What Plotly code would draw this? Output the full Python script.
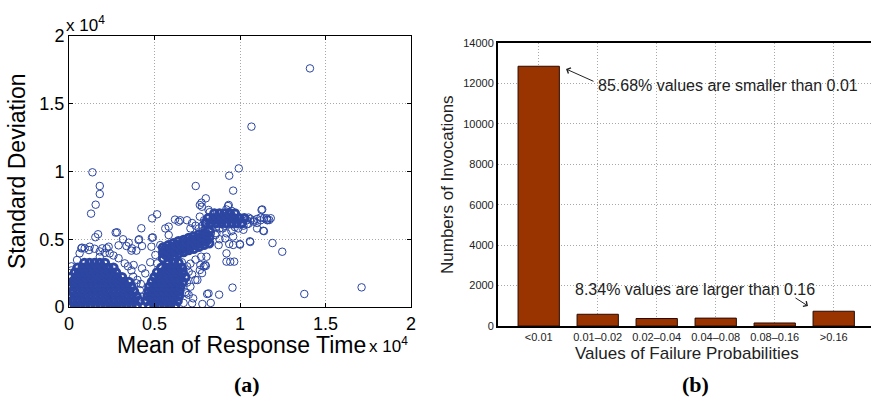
import plotly.graph_objects as go

W, H = 871, 398

# ---------------- Panel (a): scatter data (units of 1e4) ----------------
cluster_a = [
    (0.005,0.01),(0.035,0.01),(0.065,0.01),(0.095,0.01),(0.125,0.01),(0.155,0.01),(0.185,0.01),
    (0.215,0.01),(0.245,0.01),(0.275,0.01),(0.305,0.01),(0.335,0.01),(0.365,0.01),(0.395,0.01),
    (0.02,0.045),(0.05,0.045),(0.08,0.045),(0.11,0.045),(0.14,0.045),(0.17,0.045),(0.20,0.045),
    (0.23,0.045),(0.26,0.045),(0.29,0.045),(0.32,0.045),(0.35,0.045),(0.38,0.045),(0.41,0.045),
    (0.005,0.08),(0.035,0.08),(0.065,0.08),(0.095,0.08),(0.125,0.08),(0.155,0.08),(0.185,0.08),
    (0.215,0.08),(0.245,0.08),(0.275,0.08),(0.305,0.08),(0.335,0.08),(0.365,0.08),(0.395,0.08),
    (0.02,0.115),(0.05,0.115),(0.08,0.115),(0.11,0.115),(0.14,0.115),(0.17,0.115),(0.20,0.115),
    (0.23,0.115),(0.26,0.115),(0.29,0.115),(0.32,0.115),(0.35,0.115),(0.38,0.115),
    (0.005,0.15),(0.035,0.15),(0.065,0.15),(0.095,0.15),(0.125,0.15),(0.155,0.15),(0.185,0.15),
    (0.215,0.15),(0.245,0.15),(0.275,0.15),(0.305,0.15),(0.335,0.15),(0.365,0.15),
    (0.02,0.185),(0.05,0.185),(0.08,0.185),(0.11,0.185),(0.14,0.185),(0.17,0.185),(0.20,0.185),
    (0.23,0.185),(0.26,0.185),(0.29,0.185),(0.32,0.185),(0.35,0.185),
    (0.01,0.22),(0.04,0.22),(0.07,0.22),(0.10,0.22),(0.13,0.22),(0.16,0.22),(0.19,0.22),
    (0.22,0.22),(0.25,0.22),(0.28,0.22),(0.31,0.22),
    (0.035,0.255),(0.065,0.255),(0.095,0.255),(0.125,0.255),(0.155,0.255),(0.185,0.255),
    (0.215,0.255),(0.245,0.255),(0.275,0.255),
    (0.05,0.29),(0.08,0.29),(0.11,0.29),(0.14,0.29),(0.17,0.29),(0.20,0.29),(0.23,0.29),(0.26,0.29),
    (0.09,0.325),(0.12,0.325),(0.15,0.325),(0.18,0.325),(0.21,0.325),
]

cluster_b = [
    (0.47,0.01),(0.50,0.01),(0.53,0.01),(0.56,0.01),(0.59,0.01),(0.62,0.01),
    (0.455,0.045),(0.485,0.045),(0.515,0.045),(0.545,0.045),(0.575,0.045),(0.605,0.045),(0.635,0.045),
    (0.46,0.08),(0.49,0.08),(0.52,0.08),(0.55,0.08),(0.58,0.08),(0.61,0.08),(0.64,0.08),
    (0.465,0.115),(0.495,0.115),(0.525,0.115),(0.555,0.115),(0.585,0.115),(0.615,0.115),(0.645,0.115),
    (0.47,0.15),(0.50,0.15),(0.53,0.15),(0.56,0.15),(0.59,0.15),(0.62,0.15),(0.65,0.15),
    (0.485,0.185),(0.515,0.185),(0.545,0.185),(0.575,0.185),(0.605,0.185),(0.635,0.185),(0.665,0.185),
    (0.50,0.22),(0.53,0.22),(0.56,0.22),(0.59,0.22),(0.62,0.22),(0.65,0.22),(0.68,0.22),
    (0.515,0.255),(0.545,0.255),(0.575,0.255),(0.605,0.255),(0.635,0.255),(0.665,0.255),
    (0.54,0.29),(0.57,0.29),(0.60,0.29),(0.63,0.29),(0.66,0.29),
    (0.58,0.325),(0.61,0.325),(0.64,0.325),
]

cluster_c = [
    (0.55,0.36),(0.55,0.40),(0.55,0.44),(0.58,0.37),(0.58,0.41),(0.58,0.455),
    (0.61,0.38),(0.61,0.425),(0.61,0.47),(0.64,0.395),(0.64,0.44),(0.64,0.485),
    (0.67,0.405),(0.67,0.45),(0.67,0.495),(0.70,0.42),(0.70,0.465),(0.70,0.51),
    (0.73,0.43),(0.73,0.48),(0.73,0.52),(0.76,0.445),(0.76,0.49),(0.76,0.535),
    (0.79,0.46),(0.79,0.50),(0.79,0.545),(0.82,0.47),(0.82,0.515),(0.82,0.56),
    (0.565,0.385),(0.565,0.43),(0.595,0.395),(0.595,0.44),(0.625,0.41),(0.625,0.455),
    (0.655,0.42),(0.655,0.465),(0.685,0.435),(0.685,0.48),(0.715,0.45),(0.715,0.495),
    (0.745,0.46),(0.745,0.505),(0.775,0.475),(0.775,0.52),(0.805,0.49),(0.805,0.535),
]

cluster_d = [
    (0.80,0.62),(0.83,0.62),(0.86,0.62),(0.89,0.62),(0.92,0.62),(0.95,0.62),(0.98,0.62),(1.01,0.62),
    (0.815,0.655),(0.845,0.655),(0.875,0.655),(0.905,0.655),(0.935,0.655),(0.965,0.655),
    (0.995,0.655),(1.025,0.655),
    (0.85,0.69),(0.88,0.69),(0.91,0.69),(0.94,0.69),(0.97,0.69),
]

scattered = [
    (1.409,1.761),(1.067,1.331),(0.993,1.023),(0.937,0.969),(0.960,0.859),(0.741,0.893),
    (0.137,0.994),(0.180,0.893),(0.180,0.834),(0.156,0.755),(0.129,0.689),(1.711,0.145),
    (1.376,0.096),(1.247,0.408),(1.190,0.472),(1.126,0.716),(0.800,0.802),(0.775,0.770),
    (0.765,0.753),(0.956,0.143),(0.878,0.091),(0.829,0.030),(0.780,0.022),(0.808,0.096),
    (0.726,0.064),(0.429,0.0),(0.966,0.335),(0.921,0.335),(0.999,0.465),(1.058,0.485),
    (1.136,0.563),(1.171,0.642),(1.156,0.655),(0.751,0.199),(0.687,0.101),(0.800,0.303),
    (0.765,0.273),(0.773,0.371),(0.423,0.581),(0.41,0.50),(0.482,0.445),(0.49,0.514),
    (0.486,0.654),(0.515,0.684),(0.273,0.549),(0.316,0.50),(0.336,0.45),(0.365,0.416),
    (0.394,0.416),(0.17,0.537),(0.154,0.515),(0.076,0.438),(0.281,0.551),(0.349,0.475),
    (0.407,0.494),(0.368,0.433),(0.427,0.45),(0.29,0.455),(0.232,0.445),(0.195,0.433),
    (0.117,0.42),(0.047,0.347),(0.485,0.511),(0.563,0.58),(0.583,0.593),(0.641,0.63),
    (0.65,0.64),(0.69,0.64),(0.71,0.58),(0.777,0.74),(0.816,0.716),(0.934,0.753),
    (0.797,0.58),(0.856,0.531),(0.875,0.457),(0.914,0.506),(0.943,0.334),(0.797,0.31),
    (0.768,0.31),(0.778,0.25),(0.739,0.2),(0.69,0.18),(0.68,0.11),(0.70,0.09),(0.816,0.10),
    (0.72,0.027),(0.593,0.002),(0.446,0.248),(0.427,0.285),(0.378,0.31),(0.475,0.33),
    (0.505,0.384),(0.534,0.457),(0.554,0.395),(0.583,0.531),(0.515,0.322),(0.072,0.433),
    (0.22,0.433),(0.18,0.37),(0.62,0.645),(0.765,0.667),(0.823,0.70),(0.96,0.458),
    (0.937,0.465),(0.921,0.544),(0.96,0.52),(0.862,0.544),(0.83,0.545),(0.88,0.50),
    (0.921,0.396),(0.804,0.371),(0.788,0.298),(0.71,0.15),(0.648,0.076),(0.67,0.03),
    (0.014,0.27),(0.014,0.30),(0.062,0.396),(0.092,0.433),(0.121,0.445),(0.15,0.43),
    (0.18,0.41),(0.21,0.40),(0.238,0.396),(0.26,0.38),(0.29,0.36),(0.326,0.322),(0.345,0.30),
    (0.365,0.27),(0.375,0.224),(0.394,0.175),(0.414,0.125),(0.423,0.076),(0.443,0.04),
    (1.13,0.72),(1.16,0.64),(1.14,0.56),(1.06,0.48),(1.0,0.46),(1.12,0.66),(1.10,0.62),
    (1.08,0.64),(1.04,0.61),(1.05,0.66),(1.18,0.655),(1.10,0.58),(1.02,0.57),(0.99,0.58),
    (0.95,0.56),(0.90,0.58),(0.40,0.20),(0.42,0.17),(0.62,0.33),(0.66,0.33),(0.69,0.30),
    (0.70,0.26),(0.72,0.24),(0.74,0.35),(0.71,0.32),(0.82,0.58),(0.84,0.60),(0.78,0.56),
    (0.76,0.58),(0.74,0.60),(0.72,0.62),(0.86,0.59),
    (0.78,0.60),(0.79,0.64),(1.04,0.64),(1.06,0.65),(1.08,0.63),(1.10,0.65),(1.12,0.64),
    (1.14,0.655),(1.16,0.645),(0.92,0.72),(0.93,0.745),(0.95,0.71),(0.88,0.58),(0.91,0.60),
    (0.97,0.59),(1.02,0.60),(1.05,0.615),
]

a_ticks = [0, 0.5, 1, 1.5, 2]
a_tick_text = ["0", "0.5", "1", "1.5", "2"]

# ---------------- Panel (b): bar data ----------------
categories = ["<0.01", "0.01\u20130.02", "0.02\u20130.04", "0.04\u20130.08", "0.08\u20130.16", ">0.16"]
invocations = [12850, 580, 370, 390, 150, 730]

# ---------------- helpers ----------------
def fx(px):
    return px / W

def fy(py):
    return 1 - py / H

dense = cluster_a + cluster_b + cluster_c + cluster_d

BLUE = "#2c46a2"
SANS = "Liberation Sans, Arial, Helvetica, sans-serif"
SERIF = "Liberation Serif, Times New Roman, serif"

fig = go.Figure()
fig.add_trace(go.Scatter(
    x=[p[0] for p in dense], y=[p[1] for p in dense], mode="markers", xaxis="x", yaxis="y",
    marker=dict(symbol="circle-open", size=7.5, color=BLUE, line=dict(width=3, color=BLUE)),
    showlegend=False, hoverinfo="skip",
))
fig.add_trace(go.Scatter(
    x=[p[0] for p in scattered], y=[p[1] for p in scattered], mode="markers", xaxis="x", yaxis="y",
    marker=dict(symbol="circle-open", size=7.5, color=BLUE, line=dict(width=1, color=BLUE)),
    showlegend=False, hoverinfo="skip",
))
fig.add_trace(go.Bar(
    x=categories, y=invocations, xaxis="x2", yaxis="y2", width=0.7,
    marker=dict(color="#993300", line=dict(color="#2a0a00", width=1)),
    showlegend=False,
))

grid = dict(showgrid=True, gridcolor="#a8a8a8", griddash="1px,2px", gridwidth=1, zeroline=False,
            automargin=False)

fig.update_layout(
    width=W, height=H,
    margin=dict(l=0, r=0, t=0, b=0),
    paper_bgcolor="white", plot_bgcolor="white",
    xaxis=dict(domain=[fx(69), fx(411)], range=[0, 2], tickvals=a_ticks, ticktext=a_tick_text,
               showline=True, linecolor="black", linewidth=1, mirror="ticks",
               ticks="inside", ticklen=4, tickcolor="black",
               tickfont=dict(family=SANS, size=18, color="black"), anchor="y", **grid),
    yaxis=dict(domain=[fy(307), fy(36)], range=[0, 2], tickvals=a_ticks, ticktext=a_tick_text,
               showline=True, linecolor="black", linewidth=1, mirror="ticks",
               ticks="inside", ticklen=4, tickcolor="black",
               tickfont=dict(family=SANS, size=18, color="black"), anchor="x", **grid),
    xaxis2=dict(domain=[fx(497.7), 1.0], range=[-0.695, 5.632], type="category",
                showline=True, linecolor="black", linewidth=1.5, mirror=True, ticks="",
                tickfont=dict(family=SANS, size=11, color="#222"), anchor="y2", **grid),
    yaxis2=dict(domain=[fy(326), fy(43)], range=[0, 14000], dtick=2000, tickformat="d",
                showline=True, linecolor="black", linewidth=1.5, mirror=True, ticks="",
                tickfont=dict(family=SANS, size=11, color="#222"), anchor="x2", **grid),
)

ann = []
# Panel (a) texts
ann.append(dict(text="Standard Deviation", x=fx(17), y=fy(171), xref="paper", yref="paper",
                textangle=-90, showarrow=False, font=dict(family=SANS, size=23, color="black"),
                xanchor="center", yanchor="middle"))
ann.append(dict(text="Mean of Response Time", x=fx(241), y=fy(345), xref="paper", yref="paper",
                showarrow=False, font=dict(family=SANS, size=23, color="black"),
                xanchor="center", yanchor="middle"))
ann.append(dict(text="x 10<sup>4</sup>", x=fx(64), y=fy(24), xref="paper", yref="paper",
                showarrow=False, font=dict(family=SANS, size=17, color="black"),
                xanchor="left", yanchor="middle"))
ann.append(dict(text="x 10<sup>4</sup>", x=fx(367), y=fy(345), xref="paper", yref="paper",
                showarrow=False, font=dict(family=SANS, size=17, color="black"),
                xanchor="left", yanchor="middle"))
ann.append(dict(text="<b>(a)</b>", x=fx(247), y=fy(384), xref="paper", yref="paper",
                showarrow=False, font=dict(family=SERIF, size=22, color="black"),
                xanchor="center", yanchor="middle"))
# Panel (b) texts
ann.append(dict(text="Numbers of Invocations", x=fx(448), y=fy(185), xref="paper", yref="paper",
                textangle=-90, showarrow=False, font=dict(family=SANS, size=17, color="#222"),
                xanchor="center", yanchor="middle"))
ann.append(dict(text="Values of Failure Probabilities", x=fx(687), y=fy(353), xref="paper", yref="paper",
                showarrow=False, font=dict(family=SANS, size=17, color="#222"),
                xanchor="center", yanchor="middle"))
ann.append(dict(text="<b>(b)</b>", x=fx(695), y=fy(384), xref="paper", yref="paper",
                showarrow=False, font=dict(family=SERIF, size=22, color="black"),
                xanchor="center", yanchor="middle"))
ann.append(dict(text="85.68% values are smaller than 0.01", x=fx(596), y=fy(86), xref="paper", yref="paper",
                showarrow=False, font=dict(family=SANS, size=16, color="#222"),
                xanchor="left", yanchor="middle"))
ann.append(dict(text="8.34% values are larger than 0.16", x=fx(573), y=fy(289), xref="paper", yref="paper",
                showarrow=False, font=dict(family=SANS, size=16, color="#222"),
                xanchor="left", yanchor="middle"))
# arrows
ann.append(dict(text="", x=fx(566), y=fy(69), xref="paper", yref="paper", ax=29, ay=13,
                showarrow=True, arrowhead=4, arrowsize=1.2, arrowwidth=1, arrowcolor="#222"))
ann.append(dict(text="", x=fx(808), y=fy(306), xref="paper", yref="paper", ax=-14, ay=-9,
                showarrow=True, arrowhead=4, arrowsize=1.2, arrowwidth=1, arrowcolor="#222"))
fig.update_layout(annotations=ann)

fig.write_html("out.html", config={"displayModeBar": False},
               post_script="document.body.style.margin='0';document.body.style.overflow='hidden';")
